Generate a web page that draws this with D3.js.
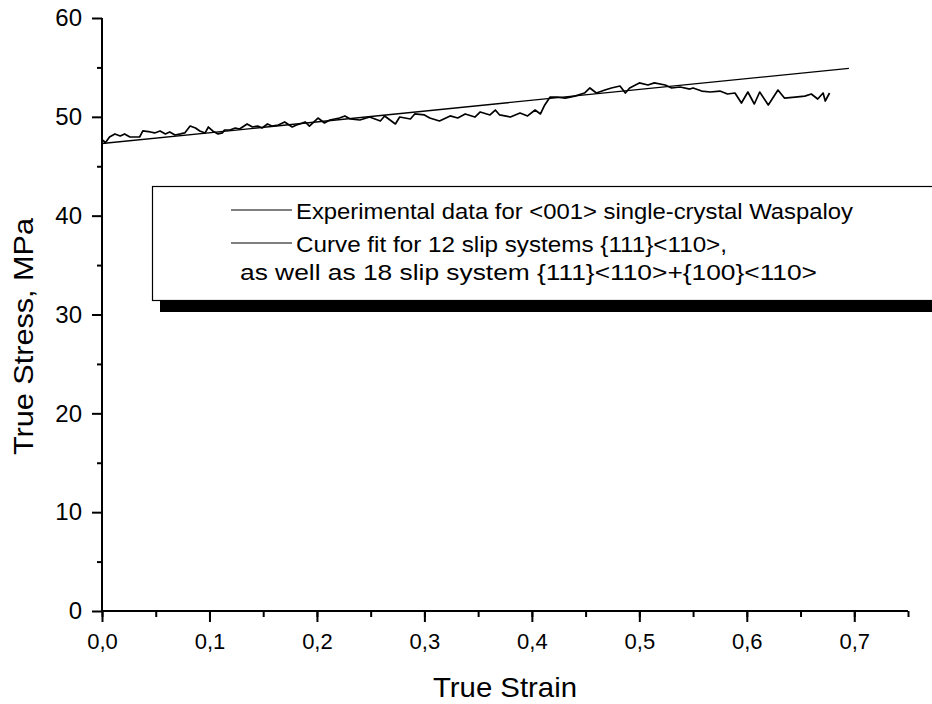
<!DOCTYPE html>
<html><head><meta charset="utf-8">
<script src="https://cdn.jsdelivr.net/npm/d3@7"></script>
<style>
html,body{margin:0;padding:0;background:#fff;}
svg{display:block;}
text{font-family:"Liberation Sans",Arial,sans-serif;fill:#000;}
</style></head>
<body>
<script>
// ---- data ----
const expStrain = [0.001,0.003,0.007,0.012,0.017,0.021,0.026,0.035,0.038,0.045,0.049,0.054,0.059,0.063,0.068,0.073,0.077,0.082,0.087,0.091,0.096,0.099,0.103,0.108,0.112,0.114,0.119,0.124,0.128,0.135,0.140,0.145,0.149,0.154,0.158,0.164,0.170,0.177,0.181,0.184,0.189,0.193,0.201,0.207,0.212,0.221,0.226,0.231,0.240,0.249,0.259,0.263,0.273,0.277,0.287,0.291,0.300,0.305,0.314,0.324,0.331,0.338,0.347,0.352,0.361,0.366,0.370,0.380,0.389,0.396,0.403,0.408,0.412,0.417,0.424,0.431,0.440,0.449,0.454,0.460,0.468,0.474,0.482,0.487,0.491,0.500,0.508,0.514,0.524,0.530,0.538,0.547,0.550,0.558,0.566,0.575,0.582,0.589,0.595,0.601,0.607,0.612,0.620,0.629,0.635,0.645,0.654,0.660,0.666,0.671,0.673,0.677];
const expStress = [47.66,47.35,47.96,48.27,48.06,48.27,47.96,47.96,48.57,48.47,48.37,48.57,48.27,48.47,48.16,48.27,48.37,49.07,48.87,48.57,48.37,48.97,48.57,48.27,48.37,48.67,48.67,48.87,48.77,49.28,48.97,49.07,48.87,49.28,49.07,49.17,49.48,48.97,49.17,49.28,49.48,49.07,49.88,49.38,49.68,49.88,50.09,49.78,49.68,49.98,49.58,50.09,49.28,49.98,49.78,50.29,50.19,49.88,49.58,50.09,49.88,50.29,49.98,50.49,50.19,50.69,50.19,49.98,50.39,50.09,50.69,50.29,51.20,52.00,52.00,51.90,52.10,52.41,52.92,52.41,52.71,52.92,53.12,52.41,52.92,53.43,53.22,53.43,53.22,52.92,53.02,52.81,52.92,52.61,52.51,52.61,52.31,52.41,51.40,52.51,51.30,52.51,51.20,52.71,51.90,52.00,52.10,52.31,51.80,52.41,51.60,52.41];
const fitStrain = [0.0, 0.695];
const fitStress = [47.3, 54.9];
const xTicks = [0,0.1,0.2,0.3,0.4,0.5,0.6,0.7];
const xTickLabels = ["0,0","0,1","0,2","0,3","0,4","0,5","0,6","0,7"];
const yTicks = [0,10,20,30,40,50,60];
const legendLabels = [
  "Experimental data for <001> single-crystal Waspaloy",
  "Curve fit for 12 slip systems {111}<110>,",
  "as well as 18 slip system {111}<110>+{100}<110>"
];
const xTitle = "True Strain";
const yTitle = "True Stress, MPa";

// ---- chart ----
const W = 932, H = 704;
const svg = d3.select("body").append("svg").attr("width", W).attr("height", H);
const x = d3.scaleLinear().domain([0, 0.75]).range([102, 908]);
const y = d3.scaleLinear().domain([0, 60]).range([611, 18]);

const line = d3.line().x(d => x(d[0])).y(d => y(d[1]));
const expData = expStrain.map((s, i) => [s, expStress[i]]);
const fitData = fitStrain.map((s, i) => [s, fitStress[i]]);

svg.append("path").datum(fitData).attr("d", line)
  .attr("fill", "none").attr("stroke", "#000").attr("stroke-width", 1.3);
svg.append("path").datum(expData).attr("d", line)
  .attr("fill", "none").attr("stroke", "#000").attr("stroke-width", 1.7)
  .attr("stroke-linejoin", "round");

const FONT = "Liberation Sans, Arial, sans-serif";

// x axis
const gx = svg.append("g").attr("transform", `translate(0,${y(0)})`);
gx.call(d3.axisBottom(x).tickValues(d3.range(0, 0.751, 0.05)).tickSize(6).tickFormat(""));
gx.selectAll(".tick line").attr("stroke-width", 2);
const gx2 = svg.append("g").attr("transform", `translate(0,${y(0)})`);
gx2.call(d3.axisBottom(x).tickValues(xTicks).tickSize(11).tickPadding(11)
  .tickFormat((d, i) => xTickLabels[i]));
gx2.selectAll(".tick line").attr("stroke-width", 2);
gx2.selectAll(".tick text").attr("font-size", 22).attr("font-family", FONT);
[gx, gx2].forEach(g => g.select(".domain").attr("stroke-width", 2).attr("d", `M${x(0)},0H${x(0.75)}`));

// y axis
const gy = svg.append("g").attr("transform", `translate(${x(0)},0)`);
gy.call(d3.axisLeft(y).tickValues(d3.range(5, 60, 10)).tickSize(5).tickFormat(""));
gy.selectAll(".tick line").attr("stroke-width", 2);
const gy2 = svg.append("g").attr("transform", `translate(${x(0)},0)`);
gy2.call(d3.axisLeft(y).tickValues(yTicks).tickSize(10).tickPadding(10).tickFormat(d3.format("d")));
gy2.selectAll(".tick line").attr("stroke-width", 2);
gy2.selectAll(".tick text").attr("font-size", 24).attr("font-family", FONT);
[gy, gy2].forEach(g => g.select(".domain").attr("stroke-width", 2).attr("d", `M0,${y(0)}V${y(60)}`));

// axis titles
svg.append("text").attr("x", 433).attr("y", 697)
  .attr("font-size", 28).attr("textLength", 144).attr("lengthAdjust", "spacingAndGlyphs").text(xTitle);
svg.append("text").attr("transform", "translate(33,455) rotate(-90)")
  .attr("font-size", 27).attr("textLength", 237).attr("lengthAdjust", "spacingAndGlyphs").text(yTitle);

// legend
const lg = svg.append("g");
lg.append("rect").attr("x", 160).attr("y", 196).attr("width", 790).attr("height", 116).attr("fill", "#000");
lg.append("rect").attr("x", 152.5).attr("y", 186.5).attr("width", 800).attr("height", 114)
  .attr("fill", "#fff").attr("stroke", "#000").attr("stroke-width", 1.2);
const rows = [
  {y: 211, x0: 296, len: 557, sample: true},
  {y: 244, x0: 296, len: 431, sample: true},
  {y: 272, x0: 240, len: 577, sample: false}
];
legendLabels.forEach((t, i) => {
  const r = rows[i];
  if (r.sample) {
    lg.append("line").attr("x1", 231).attr("x2", 292).attr("y1", r.y - 1).attr("y2", r.y - 1)
      .attr("stroke", "#000").attr("stroke-width", 1);
  }
  lg.append("text").attr("x", r.x0).attr("y", r.y).attr("dy", "0.35em")
    .attr("font-size", 22).attr("textLength", r.len).attr("lengthAdjust", "spacingAndGlyphs").text(t);
});
</script>
</body></html>
